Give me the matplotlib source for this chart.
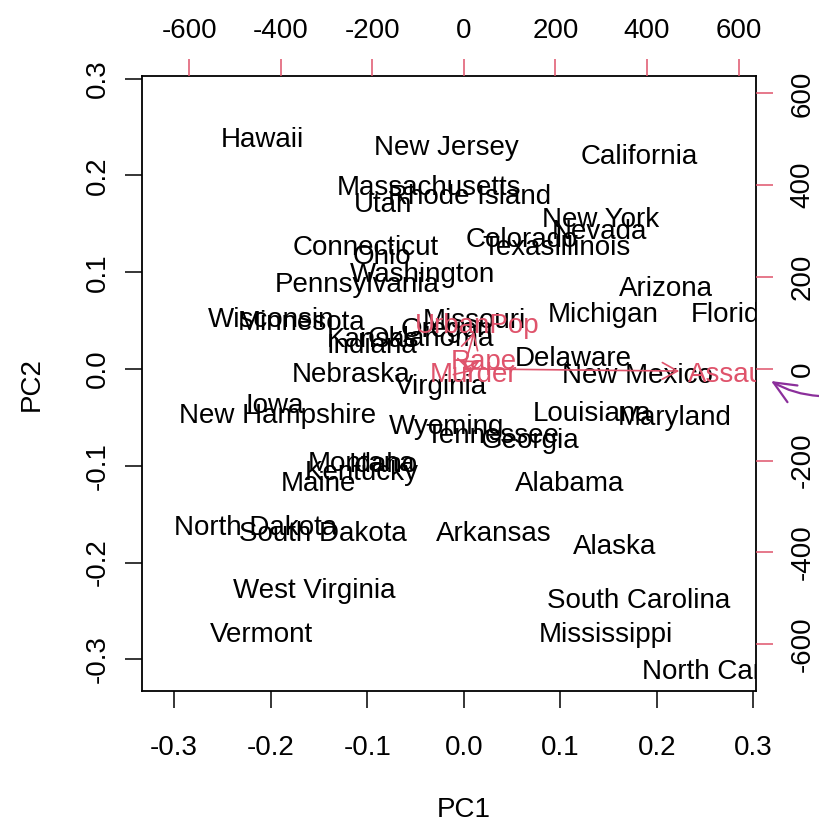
import matplotlib
matplotlib.use('Agg')
import matplotlib.pyplot as plt

plt.rcParams['font.family'] = ['Liberation Sans', 'DejaVu Sans']

# state scores (PC1, PC2)
states = ['Hawaii', 'New Jersey', 'California', 'Massachusetts', 'Rhode Island',
          'Utah', 'New York', 'Nevada', 'Colorado', 'Texas', 'Illinois',
          'Connecticut', 'Ohio', 'Washington', 'Pennsylvania', 'Arizona',
          'Michigan', 'Florida', 'Wisconsin', 'Minnesota', 'Missouri',
          'Oklahoma', 'Oregon', 'Kansas', 'Indiana', 'Nebraska', 'Virginia',
          'Delaware', 'New Mexico', 'Iowa', 'New Hampshire', 'Louisiana',
          'Maryland', 'Wyoming', 'Tennessee', 'Georgia', 'Montana', 'Idaho',
          'Kentucky', 'Maine', 'Alabama', 'North Dakota', 'South Dakota',
          'Arkansas', 'Alaska', 'West Virginia', 'South Carolina', 'Vermont',
          'Mississippi', 'North Carolina']
pc1 = [-0.209, -0.018, 0.182, -0.036, 0.006,
       -0.084, 0.142, 0.141, 0.060, 0.057, 0.133,
       -0.102, -0.085, -0.043, -0.110, 0.209,
       0.144, 0.279, -0.200, -0.168, 0.011,
       -0.034, -0.018, -0.094, -0.095, -0.117, -0.024,
       0.113, 0.180, -0.196, -0.193, 0.133,
       0.218, -0.018, 0.030, 0.069, -0.106, -0.084,
       -0.106, -0.151, 0.110, -0.216, -0.146,
       0.031, 0.156, -0.155, 0.181, -0.210,
       0.147, 0.277]
pc2 = [0.240, 0.231, 0.222, 0.190, 0.181,
       0.173, 0.157, 0.145, 0.136, 0.128, 0.128,
       0.128, 0.119, 0.100, 0.090, 0.086,
       0.059, 0.059, 0.054, 0.051, 0.053,
       0.034, 0.043, 0.033, 0.027, -0.003, -0.015,
       0.013, -0.004, -0.035, -0.045, -0.043,
       -0.048, -0.057, -0.066, -0.071, -0.095, -0.096,
       -0.104, -0.116, -0.116, -0.161, -0.167,
       -0.167, -0.181, -0.226, -0.237, -0.272,
       -0.272, -0.310]

# variable loadings (top / right axis units)
variables = ['Murder', 'Assault', 'UrbanPop', 'Rape']
load1 = [22, 588, 28, 43]
load2 = [-6, -6, 100, 22]

ticks = [-0.3, -0.2, -0.1, 0.0, 0.1, 0.2, 0.3]
ticks2 = [-600, -400, -200, 0, 200, 400, 600]

red = '#DF536B'
fs = 20

fig = plt.figure(figsize=(8.19, 8.22), dpi=100)
rect = [142.3 / 819, 1 - 691.3 / 822, (756 - 142.3) / 819, (691.3 - 76) / 822]
ax = fig.add_axes(rect)
lim = (-0.333, 0.3027)
ax.set_xlim(lim)
ax.set_ylim(lim)

for name, x, y in zip(states, pc1, pc2):
    ax.text(x, y, name, ha='center', va='center_baseline', fontsize=fs,
            clip_on=True)

ax.set_xticks(ticks)
ax.set_xticklabels([f'{t:.1f}' for t in ticks])
ax.set_yticks(ticks)
ax.set_yticklabels([f'{t:.1f}' for t in ticks], rotation=90, va='center')
ax.tick_params(axis='both', length=12.2, width=1.1, labelsize=fs)
ax.tick_params(axis='x', pad=19)
ax.tick_params(axis='y', pad=10.5)
for s in ax.spines.values():
    s.set_linewidth(1.3)

# second coordinate system for the loadings
ax2 = fig.add_axes(rect, frameon=False)
lim2 = (-702.5, 638)
ax2.set_xlim(lim2)
ax2.set_ylim(lim2)
ax2.xaxis.tick_top()
ax2.yaxis.tick_right()
ax2.set_xticks(ticks2)
ax2.set_xticklabels([str(t) for t in ticks2])
ax2.set_yticks(ticks2)
ax2.set_yticklabels([str(t) for t in ticks2], rotation=90, va='center')
ax2.tick_params(axis='both', length=12.2, width=1.1, color=red, labelsize=fs)
ax2.tick_params(axis='x', pad=11)
ax2.tick_params(axis='y', pad=12)

for name, x, y in zip(variables, load1, load2):
    ax2.annotate('', xy=(0.8 * x, 0.8 * y), xytext=(0, 0),
                 arrowprops=dict(arrowstyle='->,head_length=1.1,head_width=0.6',
                                 color=red, lw=1.2, shrinkA=0, shrinkB=0,
                                 mutation_scale=10))
    ax2.text(x, y, name, color=red, ha='center', va='center_baseline',
             fontsize=fs, clip_on=True)

# hand drawn purple pointer on the right
ax2.annotate('', xy=(771, 822 - 381), xycoords='figure pixels',
             xytext=(819, 822 - 396), textcoords='figure pixels',
             annotation_clip=False,
             arrowprops=dict(arrowstyle='->,head_length=1.6,head_width=0.7',
                             color='#8B2F9B', lw=1.6, shrinkA=0, shrinkB=0,
                             mutation_scale=10,
                             connectionstyle='arc3,rad=-0.12'))

fig.text(464 / 819, 1 - 810 / 822, 'PC1', ha='center', va='center', fontsize=fs)
fig.text(32 / 819, 1 - 384 / 822, 'PC2', ha='center', va='center', fontsize=fs,
         rotation=90)

fig.savefig('out.png', dpi=100)
